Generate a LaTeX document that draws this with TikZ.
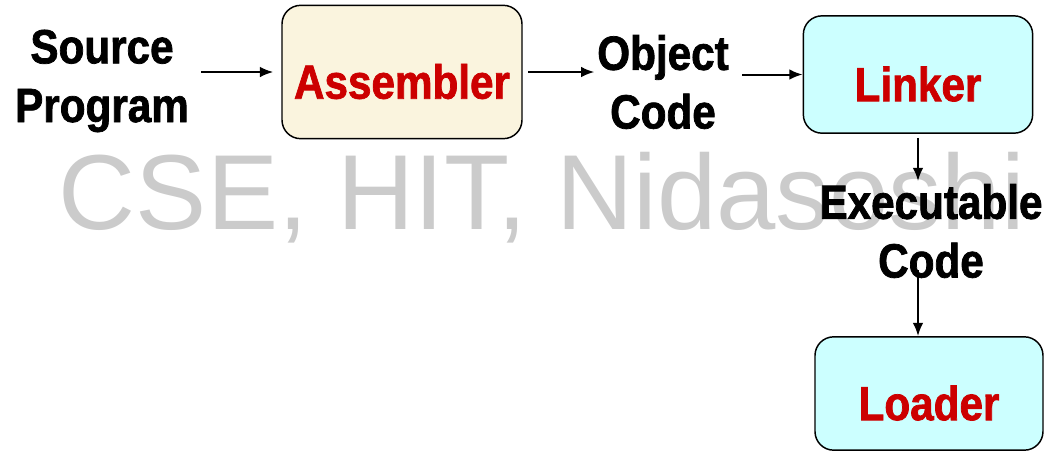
\documentclass[tikz,border=0pt]{standalone}
\usepackage{fontspec}
\setmainfont{Liberation Sans}[FakeStretch=0.88, BoldFeatures={FakeBold=1.5}]
\newfontfamily\markfont{Liberation Sans}
\usepackage{xcolor}
\usetikzlibrary{arrows.meta,positioning}
\definecolor{asmfill}{HTML}{FAF4DE}
\definecolor{lnkfill}{HTML}{CCFFFF}
\definecolor{namered}{HTML}{CC0000}
\definecolor{markgray}{HTML}{CBCBCB}

\begin{document}
\begin{tikzpicture}[
                x=0.75pt, y=-0.75pt,
                font=\fontsize{36}{44}\selectfont\bfseries,
                wordlabel/.style={align=center, inner sep=2pt},
                toolbox/.style={draw, line width=1.1pt, rounded corners=14pt, text=namered, text height=40pt, text depth=0pt},
                watermark/.style={font=\markfont\fontsize{80}{84}\selectfont, text=markgray, inner sep=0pt, anchor=base},
                bus/.style={-{Latex[length=10pt, width=8pt]}, line width=1.5pt}
            ]
            \useasboundingbox (0,0) rectangle (1047,451);
            \node[watermark] (wm) at (542,229) {CSE, HIT, Nidasoshi};
            \node[wordlabel] (src) at (102,81) {Source\\Program};
            \node[toolbox, fill=asmfill, minimum width=180pt, minimum height=100pt] (asm) at (402,72) {Assembler};
            \node[wordlabel] (obj) at (663,82) {Object\\Code};
            \node[toolbox, fill=lnkfill, minimum width=172pt, minimum height=88pt] (lnk) at (918,74.5) {Linker};
            \node[wordlabel] (exe) at (931,231) {Executable\\Code};
            \node[toolbox, fill=lnkfill, minimum width=171pt, minimum height=85pt] (ldr) at (929,393.5) {Loader};
            \draw[bus, shorten <=7pt, shorten >=6pt] (src.east |- asm.west) -- (asm.west);
            \draw[bus, shorten <=4pt] (asm.east) -- (obj.west |- asm.east);
            \draw[bus, shorten <=8pt] (obj.east |- lnk.west) -- (lnk.west);
            \draw[bus, shorten <=3pt] (lnk.south) -- (lnk.south |- exe.north);
            \draw[bus, shorten <=-8pt] (lnk.south |- exe.south) -- (lnk.south |- ldr.north);
        \end{tikzpicture}
\end{document}
